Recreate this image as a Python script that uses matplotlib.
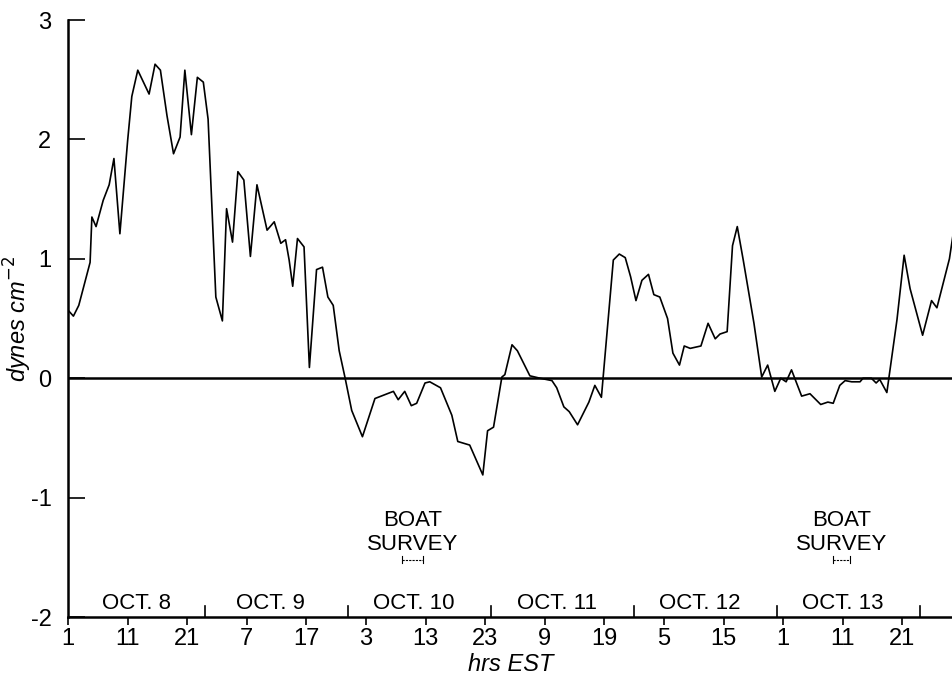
import matplotlib.pyplot as plt

# hours after 01 EST Oct 8, and stress in dynes/cm^2
hours = [0, 0.9, 1.8, 3.7, 4.0, 4.7, 5.9, 6.9, 7.7, 8.7,
         10.0, 10.7, 11.7, 13.6, 14.6, 15.5, 16.6, 17.7, 18.8, 19.6,
         20.7, 21.7, 22.7, 23.5, 24.8, 25.9, 26.6, 27.6, 28.5, 29.5,
         30.6, 31.7, 33.4, 34.6, 35.7, 36.5, 37.1, 37.7, 38.5, 39.6,
         40.5, 41.7, 42.7, 43.6, 44.5, 45.5, 46.5, 47.6, 49.4, 51.5,
         54.6, 55.4, 56.5, 57.6, 58.5, 59.9, 60.7, 62.5, 64.4, 65.4,
         67.4, 69.6, 70.4, 71.4, 72.8, 73.3, 74.5, 75.4, 77.5, 79.2,
         81.2, 82.0, 83.2, 84.1, 85.5, 87.4, 88.4, 89.5, 91.5, 92.5,
         93.5, 94.4, 95.3, 96.3, 97.4, 98.3, 99.3, 100.6, 101.5, 102.6,
         103.4, 104.4, 106.2, 107.4, 108.6, 109.4, 110.6, 111.5, 112.3, 113.3,
         115.1, 116.4, 117.4, 118.6, 119.6, 120.5, 121.4, 123.1, 124.5, 126.3,
         127.5, 128.4, 129.5, 130.4, 131.5, 132.9, 133.4, 134.8, 135.6, 136.2,
         137.4, 139.1, 140.3, 141.3, 143.4, 144.9, 145.8, 147.9, 148.5]
stress = [0.57, 0.52, 0.61, 0.97, 1.35, 1.27, 1.49, 1.62, 1.84, 1.21,
          1.99, 2.36, 2.58, 2.38, 2.63, 2.58, 2.20, 1.88, 2.02, 2.58,
          2.04, 2.52, 2.48, 2.17, 0.68, 0.48, 1.42, 1.14, 1.73, 1.66,
          1.02, 1.62, 1.24, 1.31, 1.13, 1.16, 0.99, 0.77, 1.17, 1.10,
          0.09, 0.91, 0.93, 0.68, 0.61, 0.23, 0.00, -0.27, -0.49, -0.17,
          -0.11, -0.18, -0.11, -0.23, -0.21, -0.04, -0.03, -0.08, -0.31, -0.53,
          -0.56, -0.81, -0.44, -0.41, 0.01, 0.03, 0.28, 0.23, 0.02, 0.00,
          -0.02, -0.08, -0.24, -0.28, -0.39, -0.20, -0.06, -0.16, 0.99, 1.04,
          1.01, 0.85, 0.65, 0.82, 0.87, 0.70, 0.68, 0.50, 0.21, 0.11,
          0.27, 0.25, 0.27, 0.46, 0.33, 0.37, 0.39, 1.11, 1.27, 0.99,
          0.46, 0.01, 0.11, -0.11, 0.00, -0.03, 0.07, -0.15, -0.13, -0.22,
          -0.20, -0.21, -0.06, -0.02, -0.03, -0.03, 0.00, 0.00, -0.04, -0.01,
          -0.12, 0.49, 1.03, 0.75, 0.36, 0.65, 0.59, 1.00, 1.20]

tick_hours = [0, 10, 20, 30, 40, 50, 60, 70, 80, 90, 100, 110, 120, 130, 140]
tick_labels = ['1', '11', '21', '7', '17', '3', '13', '23', '9', '19',
               '5', '15', '1', '11', '21']
midnights = [23, 47, 71, 95, 119, 143]
days = ['OCT. 8', 'OCT. 9', 'OCT. 10', 'OCT. 11', 'OCT. 12', 'OCT. 13']
day_centers = [11.5, 34, 58, 82, 106, 130]
surveys = [(56.0, 59.6), (128.4, 131.2)]

plt.rcParams['font.family'] = ['Liberation Sans', 'DejaVu Sans']

fig = plt.figure(figsize=(9.53, 6.79), dpi=100)
ax = fig.add_axes([0.0714, 0.0913, 0.9286, 0.8792])

ax.plot(hours, stress, color='black', lw=1.2)
ax.axhline(0, color='black', lw=1.8)

ax.set_xlim(0, 148.5)
ax.set_ylim(-2, 3)

for side in ['top', 'right']:
    ax.spines[side].set_visible(False)
for side in ['left', 'bottom']:
    ax.spines[side].set_linewidth(1.8)

ax.set_yticks([-2, -1, 0, 1, 2, 3])
ax.set_yticklabels(['-2', '-1', '0', '1', '2', '3'])
ax.tick_params(axis='y', direction='in', length=12, width=1.2, labelsize=17, pad=12)
ax.set_xticks(tick_hours)
ax.set_xticklabels(tick_labels)
ax.tick_params(axis='x', direction='out', length=6, width=1.2, labelsize=17, pad=2)

# day separators (inward ticks)
for m in midnights:
    ax.plot([m, m], [-2, -1.91], color='black', lw=1.2, clip_on=False)
for d, c in zip(days, day_centers):
    ax.text(c, -1.89, d, ha='center', va='center', fontsize=16)

# boat survey markers
for s0, s1 in surveys:
    xc = (s0 + s1) / 2
    ax.text(xc, -1.19, 'BOAT', ha='center', va='center', fontsize=16)
    ax.text(xc, -1.39, 'SURVEY', ha='center', va='center', fontsize=16)
    ax.plot([s0, s1], [-1.52, -1.52], color='black', lw=0.8, ls=(0, (2, 1)))
    for s in (s0, s1):
        ax.plot([s, s], [-1.49, -1.55], color='black', lw=0.8)

ax.set_ylabel('dynes cm$^{-2}$', fontsize=17, style='italic')
ax.yaxis.set_label_coords(-0.039, 0.5)
ax.set_xlabel('hrs EST', fontsize=17, style='italic', labelpad=2)

fig.savefig('out.png', dpi=100)
